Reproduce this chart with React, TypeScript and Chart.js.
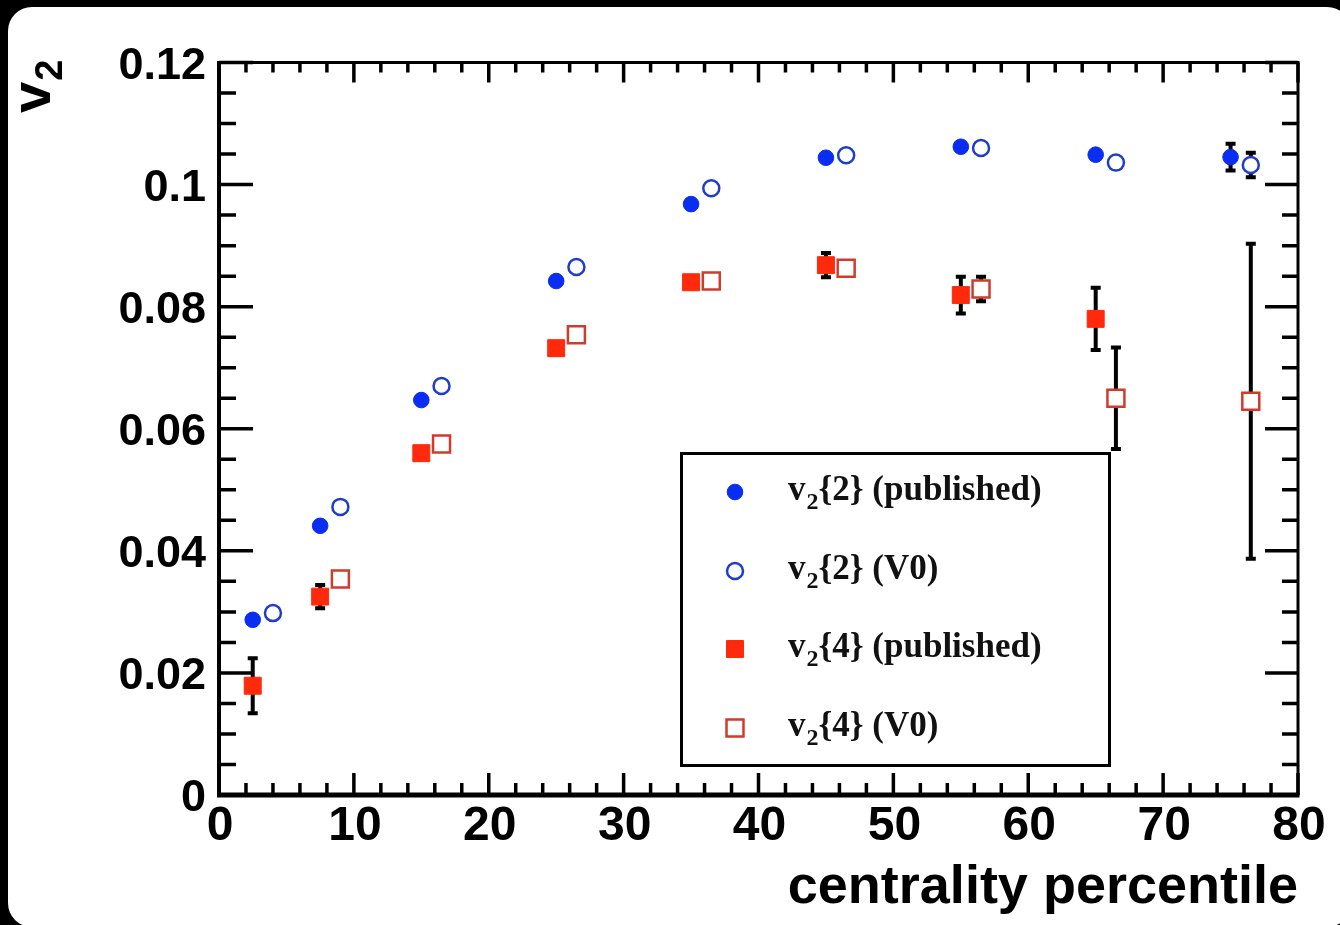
import React, { useEffect, useRef } from 'react';
import { Chart, registerables } from 'chart.js';

Chart.register(...registerables);

// ---- data ----
const xPublished = [2.5, 7.5, 15, 25, 35, 45, 55, 65, 75];
const xV0 = [4, 9, 16.5, 26.5, 36.5, 46.5, 56.5, 66.5, 76.5];

const v22Published = [0.0287, 0.0441, 0.0647, 0.0842, 0.0968, 0.1044, 0.1062, 0.1049, 0.1045];
const v22PublishedErr = [0.0005, 0.0005, 0.0005, 0.0005, 0.0005, 0.0005, 0.0005, 0.0005, 0.0022];

const v22V0 = [0.0298, 0.0472, 0.067, 0.0865, 0.0994, 0.1048, 0.106, 0.1036, 0.1032];
const v22V0Err = [0.0005, 0.0005, 0.0005, 0.0005, 0.0005, 0.0005, 0.0005, 0.0005, 0.002];

const xV24Published = [2.5, 7.5, 15, 25, 35, 45, 55, 65];
const v24Published = [0.0179, 0.0325, 0.056, 0.0732, 0.084, 0.0868, 0.0819, 0.078];
const v24PublishedErr = [0.0045, 0.0019, 0.001, 0.001, 0.001, 0.002, 0.003, 0.0051];

const xV24V0 = [9, 16.5, 26.5, 36.5, 46.5, 56.5, 66.5, 76.5];
const v24V0 = [0.0354, 0.0575, 0.0754, 0.0842, 0.0863, 0.0829, 0.065, 0.0645];
const v24V0Err = [0.001, 0.001, 0.001, 0.001, 0.001, 0.002, 0.0083, 0.0258];

const xMajorTicks = [0, 10, 20, 30, 40, 50, 60, 70, 80];
const xTickLabels = ['0', '10', '20', '30', '40', '50', '60', '70', '80'];
const yMajorTicks = [0, 0.02, 0.04, 0.06, 0.08, 0.1, 0.12];
const yTickLabels = ['0', '0.02', '0.04', '0.06', '0.08', '0.1', '0.12'];
const xMinorStep = 2;
const yMinorStep = 0.005;

const legendRest = ['{2} (published)', '{2} (V0)', '{4} (published)', '{4} (V0)'];
const xTitle = 'centrality percentile';

// ---- styles ----
const BLUE = '#0a2df2';
const BLUE_OPEN = '#1f3dcc';
const RED = '#ff2a0c';
const RED_OPEN = '#d23a2c';

const SANS = '"Liberation Sans", Arial, Helvetica, sans-serif';
const SERIF = '"Liberation Serif", "Times New Roman", serif';

type MarkerSpec = { style: 'circle' | 'rect'; fill: string; stroke: string; lw: number; r: number };
const markers: MarkerSpec[] = [
  { style: 'circle', fill: BLUE, stroke: BLUE, lw: 1, r: 7.8 },
  { style: 'circle', fill: '#ffffff', stroke: BLUE_OPEN, lw: 2.5, r: 8 },
  { style: 'rect', fill: RED, stroke: RED, lw: 1, r: 12 },
  { style: 'rect', fill: '#ffffff', stroke: RED_OPEN, lw: 2.5, r: 12 },
];

const errorArrays = [v22PublishedErr, v22V0Err, v24PublishedErr, v24V0Err];

function drawMarker(ctx: CanvasRenderingContext2D, m: MarkerSpec, x: number, y: number) {
  ctx.save();
  ctx.fillStyle = m.fill;
  ctx.strokeStyle = m.stroke;
  ctx.lineWidth = m.lw;
  ctx.beginPath();
  if (m.style === 'circle') {
    ctx.arc(x, y, m.r, 0, Math.PI * 2);
  } else {
    const h = Math.SQRT1_2 * m.r;
    ctx.rect(x - h, y - h, 2 * h, 2 * h);
  }
  ctx.fill();
  ctx.stroke();
  ctx.restore();
}

const errorBarPlugin = {
  id: 'errorBars',
  beforeDatasetsDraw(chart: any) {
    const ctx: CanvasRenderingContext2D = chart.ctx;
    const ys = chart.scales.y;
    ctx.save();
    ctx.strokeStyle = '#000';
    chart.data.datasets.forEach((ds: any, i: number) => {
      const meta = chart.getDatasetMeta(i);
      const errs = errorArrays[i];
      meta.data.forEach((pt: any, j: number) => {
        const v = ds.data[j].y;
        const e = errs[j];
        const y1 = ys.getPixelForValue(v + e);
        const y2 = ys.getPixelForValue(v - e);
        ctx.lineWidth = 4;
        ctx.beginPath();
        ctx.moveTo(pt.x, y1);
        ctx.lineTo(pt.x, y2);
        ctx.stroke();
        ctx.lineWidth = 4;
        ctx.beginPath();
        ctx.moveTo(pt.x - 5, y1);
        ctx.lineTo(pt.x + 5, y1);
        ctx.moveTo(pt.x - 5, y2);
        ctx.lineTo(pt.x + 5, y2);
        ctx.stroke();
      });
    });
    ctx.restore();
  },
};

const framePlugin = {
  id: 'rootFrame',
  afterDraw(chart: any) {
    const ctx: CanvasRenderingContext2D = chart.ctx;
    const xs = chart.scales.x;
    const ys = chart.scales.y;
    const { left, right, top, bottom } = chart.chartArea;
    ctx.save();
    ctx.strokeStyle = '#000';
    ctx.fillStyle = '#000';

    // frame
    ctx.lineWidth = 3;
    ctx.beginPath();
    ctx.moveTo(left - 2, top);
    ctx.lineTo(right + 1.5, top);
    ctx.moveTo(right, top);
    ctx.lineTo(right, bottom);
    ctx.stroke();
    ctx.lineWidth = 4;
    ctx.beginPath();
    ctx.moveTo(left, top - 1.5);
    ctx.lineTo(left, bottom);
    ctx.stroke();
    ctx.lineWidth = 5;
    ctx.beginPath();
    ctx.moveTo(left - 2, bottom);
    ctx.lineTo(right + 1.5, bottom);
    ctx.stroke();

    // x ticks (bottom and top)
    ctx.lineWidth = 3.5;
    const xMin = xMajorTicks[0];
    const xMax = xMajorTicks[xMajorTicks.length - 1];
    for (let v = xMin; v <= xMax + 1e-9; v += xMinorStep) {
      const major = xMajorTicks.some((t) => Math.abs(t - v) < 1e-9);
      const px = xs.getPixelForValue(v);
      const len = major ? 22 : 12;
      ctx.beginPath();
      ctx.moveTo(px, bottom);
      ctx.lineTo(px, bottom - len);
      ctx.moveTo(px, top);
      ctx.lineTo(px, top + (major ? 20 : 10));
      ctx.stroke();
    }
    // y ticks (left and right)
    const yMin = yMajorTicks[0];
    const yMax = yMajorTicks[yMajorTicks.length - 1];
    for (let k = 0; yMin + k * yMinorStep <= yMax + 1e-9; k++) {
      const v = yMin + k * yMinorStep;
      const major = yMajorTicks.some((t) => Math.abs(t - v) < 1e-9);
      const py = ys.getPixelForValue(v);
      ctx.beginPath();
      ctx.moveTo(left, py);
      ctx.lineTo(left + (major ? 34 : 17), py);
      ctx.moveTo(right, py);
      ctx.lineTo(right - (major ? 33 : 16), py);
      ctx.stroke();
    }

    // tick labels
    ctx.font = `bold 48px ${SANS}`;
    ctx.textAlign = 'center';
    ctx.textBaseline = 'alphabetic';
    xMajorTicks.forEach((v, i) => {
      ctx.fillText(xTickLabels[i], xs.getPixelForValue(v) + 1, 840);
    });
    ctx.font = `bold 45px ${SANS}`;
    ctx.textAlign = 'right';
    yMajorTicks.forEach((v, i) => {
      ctx.fillText(yTickLabels[i], 206, ys.getPixelForValue(v) + 16);
    });

    // x title
    ctx.font = `bold 54px ${SANS}`;
    ctx.textAlign = 'right';
    ctx.fillText(xTitle, right, 903);

    // y title v_2 rotated
    ctx.save();
    ctx.translate(50, 113);
    ctx.rotate(-Math.PI / 2);
    ctx.textAlign = 'left';
    ctx.font = `bold 56px ${SANS}`;
    ctx.fillText('v', 0, 0);
    const vw = ctx.measureText('v').width;
    ctx.font = `bold 38px ${SANS}`;
    ctx.fillText('2', vw + 1, 12);
    ctx.restore();

    // legend box
    ctx.lineWidth = 3;
    ctx.strokeRect(681.5, 453.5, 428, 312);
    const rowY = [492, 571, 649, 728];
    ctx.textAlign = 'left';
    rowY.forEach((y, i) => {
      drawMarker(ctx, markers[i], 735, y);
      ctx.fillStyle = '#111';
      ctx.font = `bold 35px ${SERIF}`;
      ctx.fillText('v', 788, y + 8);
      const w = ctx.measureText('v').width;
      ctx.font = `bold 24px ${SERIF}`;
      ctx.fillText('2', 788 + w + 1, y + 17);
      const w2 = ctx.measureText('2').width;
      ctx.font = `bold 35px ${SERIF}`;
      ctx.fillText(legendRest[i], 788 + w + w2 + 1, y + 8);
    });

    ctx.restore();
  },
};

function makeData(xs: number[], ys: number[]) {
  return xs.map((x, i) => ({ x, y: ys[i] }));
}

export default function App() {
  const canvasRef = useRef<HTMLCanvasElement | null>(null);

  useEffect(() => {
    const canvas = canvasRef.current;
    if (!canvas) return;
    const seriesX = [xPublished, xV0, xV24Published, xV24V0];
    const seriesY = [v22Published, v22V0, v24Published, v24V0];
    const names = ['v2{2} (published)', 'v2{2} (V0)', 'v2{4} (published)', 'v2{4} (V0)'];
    const chart = new Chart(canvas, {
      type: 'scatter',
      data: {
        datasets: seriesX.map((xs, i) => ({
          label: names[i],
          data: makeData(xs, seriesY[i]),
          showLine: false,
          pointStyle: markers[i].style,
          pointRadius: markers[i].r,
          pointHoverRadius: markers[i].r,
          pointBackgroundColor: markers[i].fill,
          pointBorderColor: markers[i].stroke,
          pointBorderWidth: markers[i].lw,
          pointHoverBorderWidth: markers[i].lw,
        })),
      },
      options: {
        animation: false,
        responsive: false,
        events: [],
        layout: { padding: { left: 219, right: 42, top: 62.5, bottom: 130 } },
        scales: {
          x: { type: 'linear', min: 0, max: 80, display: false },
          y: { type: 'linear', min: 0, max: 0.12, display: false },
        },
        plugins: {
          legend: { display: false },
          tooltip: { enabled: false },
        },
      },
      plugins: [errorBarPlugin, framePlugin],
    } as any);
    return () => chart.destroy();
  }, []);

  return (
    <div style={{ position: 'fixed', left: 0, top: 0, width: 1340, height: 925, background: '#000', overflow: 'hidden' }}>
      <div
        style={{
          position: 'absolute',
          left: 8,
          top: 7,
          width: 1343,
          height: 920,
          background: '#fff',
          borderRadius: 24,
        }}
      />
      <canvas
        ref={canvasRef}
        width={1340}
        height={925}
        style={{ position: 'absolute', left: 0, top: 0, width: 1340, height: 925 }}
      />
    </div>
  );
}
